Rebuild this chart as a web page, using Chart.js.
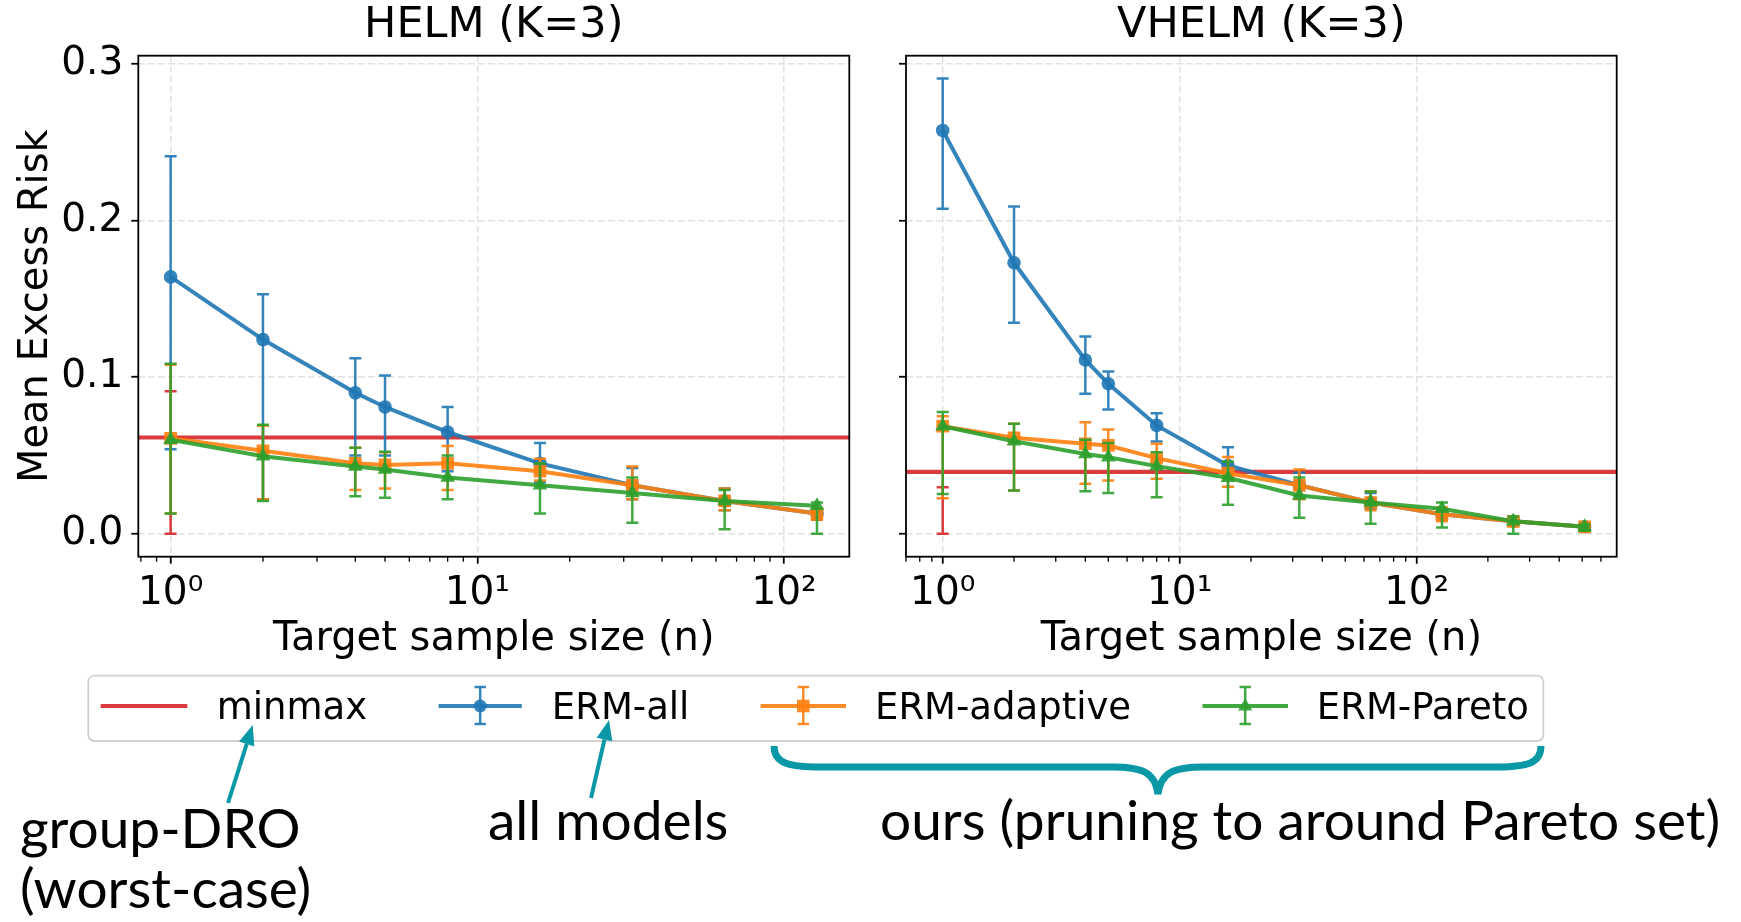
<!DOCTYPE html>
<html>
<head>
<meta charset="utf-8">
<script src="https://cdn.jsdelivr.net/npm/chart.js@4.4.1/dist/chart.umd.min.js"></script>
<style>
  html, body { margin: 0; padding: 0; background: #fff; }
  #wrap { position: relative; width: 1741px; height: 922px; overflow: hidden; background: #fff; }
  canvas { position: absolute; top: 0; }
  #helm { left: 0; }
  #vhelm { left: 870px; }
  #overlay { position: absolute; left: 0; top: 0; }
  .leg { font-family: 'DejaVu Sans'; font-size: 37px; fill: #000; }
  .note { font-family: Lato; font-size: 55px; fill: #000; }
</style>
</head>
<body>
<div id="wrap">
  <canvas id="helm" width="870" height="670"></canvas>
  <canvas id="vhelm" width="871" height="670"></canvas>
  <svg id="overlay" width="1741" height="922">
    <!-- legend -->
    <rect x="88.3" y="675.7" width="1455" height="65.3" rx="6" fill="#fff" stroke="#d0d0d0" stroke-width="1.8"/>
    <line x1="100.7" y1="706" x2="187.3" y2="706" stroke="rgba(214,39,40,0.9)" stroke-width="4"/>
    <text class="leg" x="216.7" y="719">minmax</text>

    <g stroke="rgba(31,119,180,0.9)" stroke-width="2.5">
      <line x1="438.6" y1="706" x2="521.8" y2="706" stroke-width="4"/>
      <line x1="480.2" y1="687" x2="480.2" y2="724"/>
      <line x1="474.5" y1="687" x2="485.9" y2="687"/>
      <line x1="474.5" y1="724" x2="485.9" y2="724"/>
    </g>
    <circle cx="480.2" cy="706" r="6.5" fill="rgba(31,119,180,0.9)"/>
    <text class="leg" x="551.8" y="719">ERM-all</text>

    <g stroke="rgba(255,127,14,0.9)" stroke-width="2.5">
      <line x1="760.6" y1="706" x2="846" y2="706" stroke-width="4"/>
      <line x1="803.3" y1="687" x2="803.3" y2="724"/>
      <line x1="797.6" y1="687" x2="809" y2="687"/>
      <line x1="797.6" y1="724" x2="809" y2="724"/>
    </g>
    <rect x="797" y="699.7" width="12.6" height="12.6" fill="rgba(255,127,14,0.9)"/>
    <text class="leg" x="875" y="719">ERM-adaptive</text>

    <g stroke="rgba(44,160,44,0.9)" stroke-width="2.5">
      <line x1="1202.5" y1="706" x2="1288" y2="706" stroke-width="4"/>
      <line x1="1245.2" y1="687" x2="1245.2" y2="724"/>
      <line x1="1239.5" y1="687" x2="1250.9" y2="687"/>
      <line x1="1239.5" y1="724" x2="1250.9" y2="724"/>
    </g>
    <polygon points="1245.2,698 1252.3,710.5 1238.1,710.5" fill="rgba(44,160,44,0.9)"/>
    <text class="leg" x="1316.8" y="719">ERM-Pareto</text>

    <!-- annotations -->
    <g stroke="#0a98a6" stroke-width="4" fill="none">
      <line x1="228" y1="803" x2="246.7" y2="744"/>
      <line x1="591" y1="798" x2="604.5" y2="739.5"/>
      <path stroke-width="7" d="M 774 746 C 774 764, 790 767, 822 767 L 1112 767 C 1142 767, 1155 772, 1158 794 C 1161 772, 1174 767, 1204 767 L 1494 767 C 1526 767, 1541 764, 1541 746"/>
    </g>
    <polygon points="252.7,725 254.3,746.4 239.1,741.6" fill="#0a98a6"/>
    <polygon points="609,720 612.3,741.3 596.7,737.7" fill="#0a98a6"/>
    <text class="note" x="20" y="848">group-DRO</text>
    <text class="note" x="20" y="908">(worst-case)</text>
    <text class="note" x="488" y="840">all models</text>
    <text class="note" x="880" y="840">ours (pruning to around Pareto set)</text>
  </svg>
</div>
<script>
Chart.defaults.font.family = 'DejaVu Sans'
Chart.defaults.color = '#000'

// HELM (K=3)
const helmN = [1, 2, 4, 5, 8, 16, 32, 64, 128]
const helmAll = [0.164, 0.124, 0.090, 0.081, 0.065, 0.045, 0.031, 0.021, 0.013]
const helmAllLo = [0.054, 0.022, 0.050, 0.050, 0.040, 0.033, 0.022, 0.015, 0.009]
const helmAllHi = [0.241, 0.153, 0.112, 0.101, 0.081, 0.058, 0.042, 0.029, 0.016]
const helmAdaptive = [0.061, 0.053, 0.045, 0.044, 0.045, 0.040, 0.031, 0.021, 0.013]
const helmAdaptiveLo = [0.013, 0.022, 0.028, 0.029, 0.028, 0.034, 0.022, 0.015, 0.009]
const helmAdaptiveHi = [0.108, 0.069, 0.055, 0.052, 0.056, 0.048, 0.043, 0.029, 0.016]
const helmPareto = [0.060, 0.0495, 0.043, 0.041, 0.036, 0.031, 0.026, 0.021, 0.018]
const helmParetoLo = [0.013, 0.021, 0.024, 0.023, 0.022, 0.013, 0.007, 0.003, 0.0]
const helmParetoHi = [0.1085, 0.0697, 0.055, 0.0524, 0.050, 0.045, 0.036, 0.028, 0.020]
const helmMinmax = 0.0615
const helmMinmaxErr = [0.0, 0.091]

// VHELM (K=3)
const vhelmN = [1, 2, 4, 5, 8, 16, 32, 64, 128, 256, 512]
const vhelmAll = [0.2575, 0.173, 0.111, 0.0958, 0.0692, 0.0436, 0.031, 0.020, 0.0125, 0.008, 0.0045]
const vhelmAllLo = [0.2075, 0.1347, 0.0894, 0.0794, 0.059, 0.037, 0.024, 0.016, 0.010, 0.006, 0.003]
const vhelmAllHi = [0.2906, 0.209, 0.126, 0.1036, 0.077, 0.0553, 0.039, 0.026, 0.015, 0.010, 0.006]
const vhelmAdaptive = [0.0687, 0.0613, 0.0575, 0.0564, 0.0483, 0.0387, 0.031, 0.020, 0.0125, 0.008, 0.0045]
const vhelmAdaptiveLo = [0.0227, 0.0276, 0.0319, 0.034, 0.0351, 0.030, 0.022, 0.015, 0.008, 0.006, 0.003]
const vhelmAdaptiveHi = [0.075, 0.0702, 0.0713, 0.0666, 0.0575, 0.049, 0.041, 0.027, 0.017, 0.010, 0.006]
const vhelmPareto = [0.0687, 0.0591, 0.051, 0.0489, 0.0432, 0.0358, 0.0245, 0.020, 0.016, 0.008, 0.0045]
const vhelmParetoLo = [0.0255, 0.0276, 0.0272, 0.026, 0.0234, 0.0185, 0.0102, 0.0064, 0.004, 0.0, 0.002]
const vhelmParetoHi = [0.0777, 0.0702, 0.060, 0.058, 0.052, 0.046, 0.036, 0.027, 0.020, 0.011, 0.006]
const vhelmMinmax = 0.0396
const vhelmMinmaxErr = [0.0, 0.0298]

const yTickValues = [0, 0.1, 0.2, 0.3]
const Y_MIN = -0.0146
const Y_MAX = 0.3052
const SUPERSCRIPT = { '-1': '⁻¹', 0: '⁰', 1: '¹', 2: '²', 3: '³' }

const RED = 'rgba(214,39,40,0.9)'
const BLUE = 'rgba(31,119,180,0.9)'
const ORANGE = 'rgba(255,127,14,0.9)'
const GREEN = 'rgba(44,160,44,0.9)'
const GRID = '#e2e2e2'
const CAP = 6

function points(n, values) {
  return n.map((x, i) => ({ x, y: values[i] }))
}

// error bars are drawn right before each dataset, minmax line across the axes
const errorBarPlugin = {
  id: 'errorBars',
  beforeDatasetDraw(chart, args) {
    const ds = chart.data.datasets[args.index]
    if (!ds.errLo) return
    const xs = chart.scales.x
    const ys = chart.scales.y
    const a = chart.chartArea
    const ctx = chart.ctx
    ctx.save()
    ctx.strokeStyle = ds.borderColor
    if (ds.hline) {
      const py = ys.getPixelForValue(ds.hline)
      ctx.lineWidth = 4.2
      ctx.beginPath()
      ctx.moveTo(a.left, py)
      ctx.lineTo(a.right, py)
      ctx.stroke()
    }
    ctx.lineWidth = 2.5
    ds.data.forEach((p, i) => {
      const px = xs.getPixelForValue(p.x)
      const top = ys.getPixelForValue(ds.errHi[i])
      const bot = ys.getPixelForValue(ds.errLo[i])
      ctx.beginPath()
      ctx.moveTo(px, top)
      ctx.lineTo(px, bot)
      ctx.moveTo(px - CAP, top)
      ctx.lineTo(px + CAP, top)
      ctx.moveTo(px - CAP, bot)
      ctx.lineTo(px + CAP, bot)
      ctx.stroke()
    })
    ctx.restore()
  }
}

const framePlugin = {
  id: 'frame',
  afterDraw(chart) {
    const { ctx, chartArea: a, scales } = chart
    ctx.save()
    ctx.strokeStyle = '#000'
    ctx.lineWidth = 1.3
    scales.x.ticks.forEach(t => {
      if (t.major) return
      const px = scales.x.getPixelForValue(t.value)
      ctx.beginPath()
      ctx.moveTo(px, a.bottom)
      ctx.lineTo(px, a.bottom + 5)
      ctx.stroke()
    })
    ctx.lineWidth = 1.8
    ctx.strokeRect(a.left, a.top, a.right - a.left, a.bottom - a.top)
    ctx.restore()
  }
}

function series(label, n, values, lo, hi, color, style, radius, order) {
  return {
    label,
    data: points(n, values),
    errLo: lo,
    errHi: hi,
    borderColor: color,
    backgroundColor: color,
    borderWidth: 4,
    pointStyle: style,
    pointRadius: radius,
    pointBorderWidth: 0,
    pointBackgroundColor: color,
    tension: 0,
    order
  }
}

function buildChart(canvas, cfg) {
  const datasets = [
    {
      label: 'minmax',
      data: points([1], [cfg.minmax]),
      hline: cfg.minmax,
      errLo: [cfg.minmaxErr[0]],
      errHi: [cfg.minmaxErr[1]],
      borderColor: RED,
      showLine: false,
      pointRadius: 0,
      order: 4
    },
    series('ERM-all', cfg.n, cfg.all, cfg.allLo, cfg.allHi, BLUE, 'circle', 6.8, 3),
    series('ERM-adaptive', cfg.n, cfg.adaptive, cfg.adaptiveLo, cfg.adaptiveHi, ORANGE, 'rect', 9, 2),
    series('ERM-Pareto', cfg.n, cfg.pareto, cfg.paretoLo, cfg.paretoHi, GREEN, 'triangle', 8.5, 1)
  ]

  return new Chart(canvas, {
    type: 'line',
    data: { datasets },
    plugins: [errorBarPlugin, framePlugin],
    options: {
      responsive: false,
      animation: false,
      layout: { padding: { left: 0, right: cfg.padRight, top: 0, bottom: 0 } },
      plugins: {
        legend: { display: false },
        tooltip: { enabled: false },
        title: {
          display: true,
          text: cfg.title,
          fullSize: false,
          color: '#000',
          font: { family: 'DejaVu Sans', size: 43, weight: 'normal' },
          padding: { top: 0, bottom: 4.1 }
        }
      },
      scales: {
        x: {
          type: 'logarithmic',
          min: cfg.xMin,
          max: cfg.xMax,
          afterBuildTicks(scale) {
            const ticks = []
            for (let e = -1; e <= 3; e += 1) {
              for (let m = 1; m <= 9; m += 1) {
                const v = m * Math.pow(10, e)
                if (v >= scale.min && v <= scale.max) ticks.push({ value: v, major: m === 1 })
              }
            }
            scale.ticks = ticks
          },
          afterFit(scale) {
            scale.height = 113.3
            scale.paddingLeft = 0
            scale.paddingRight = 0
          },
          ticks: {
            autoSkip: false,
            maxRotation: 0,
            padding: 7,
            font: { size: 39 },
            color: '#000',
            callback(value, index, ticks) {
              if (!ticks[index].major) return ''
              return '10' + SUPERSCRIPT[Math.round(Math.log10(value))]
            }
          },
          grid: {
            lineWidth: 1.5,
            color: c => (c.tick && c.tick.major ? GRID : 'rgba(0,0,0,0)'),
            tickColor: c => (c.tick && c.tick.major ? '#000' : 'rgba(0,0,0,0)'),
            tickWidth: 1.8,
            tickLength: 7
          },
          border: { display: false, dash: [7, 3] },
          title: {
            display: true,
            text: 'Target sample size (n)',
            font: { size: 40 },
            color: '#000',
            padding: { top: 0, bottom: 6 }
          }
        },
        y: {
          type: 'linear',
          min: Y_MIN,
          max: Y_MAX,
          afterBuildTicks(scale) {
            scale.ticks = yTickValues.map(v => ({ value: v }))
          },
          afterFit(scale) {
            scale.width = cfg.yWidth
            scale.paddingTop = 0
            scale.paddingBottom = 0
          },
          ticks: {
            padding: 8,
            font: { size: 39 },
            color: '#000',
            callback: value => (cfg.yLabels ? value.toFixed(1) : '')
          },
          grid: {
            lineWidth: 1.5,
            color: GRID,
            tickColor: '#000',
            tickWidth: 1.8,
            tickLength: 7
          },
          border: { display: false, dash: [7, 3] },
          title: {
            display: cfg.yLabels,
            text: 'Mean Excess Risk',
            font: { size: 40 },
            color: '#000',
            padding: { top: 13, bottom: 0 }
          }
        }
      }
    }
  })
}

buildChart(document.getElementById('helm'), {
  title: 'HELM (K=3)',
  n: helmN,
  all: helmAll, allLo: helmAllLo, allHi: helmAllHi,
  adaptive: helmAdaptive, adaptiveLo: helmAdaptiveLo, adaptiveHi: helmAdaptiveHi,
  pareto: helmPareto, paretoLo: helmParetoLo, paretoHi: helmParetoHi,
  minmax: helmMinmax, minmaxErr: helmMinmaxErr,
  xMin: Math.pow(10, -0.1054), xMax: Math.pow(10, 2.2126),
  yWidth: 138.3, padRight: 20.7, yLabels: true
})

buildChart(document.getElementById('vhelm'), {
  title: 'VHELM (K=3)',
  n: vhelmN,
  all: vhelmAll, allLo: vhelmAllLo, allHi: vhelmAllHi,
  adaptive: vhelmAdaptive, adaptiveLo: vhelmAdaptiveLo, adaptiveHi: vhelmAdaptiveHi,
  pareto: vhelmPareto, paretoLo: vhelmParetoLo, paretoHi: vhelmParetoHi,
  minmax: vhelmMinmax, minmaxErr: vhelmMinmaxErr,
  xMin: Math.pow(10, -0.1355), xMax: Math.pow(10, 2.8447),
  yWidth: 36, padRight: 124.3, yLabels: false
})
</script>
</body>
</html>
